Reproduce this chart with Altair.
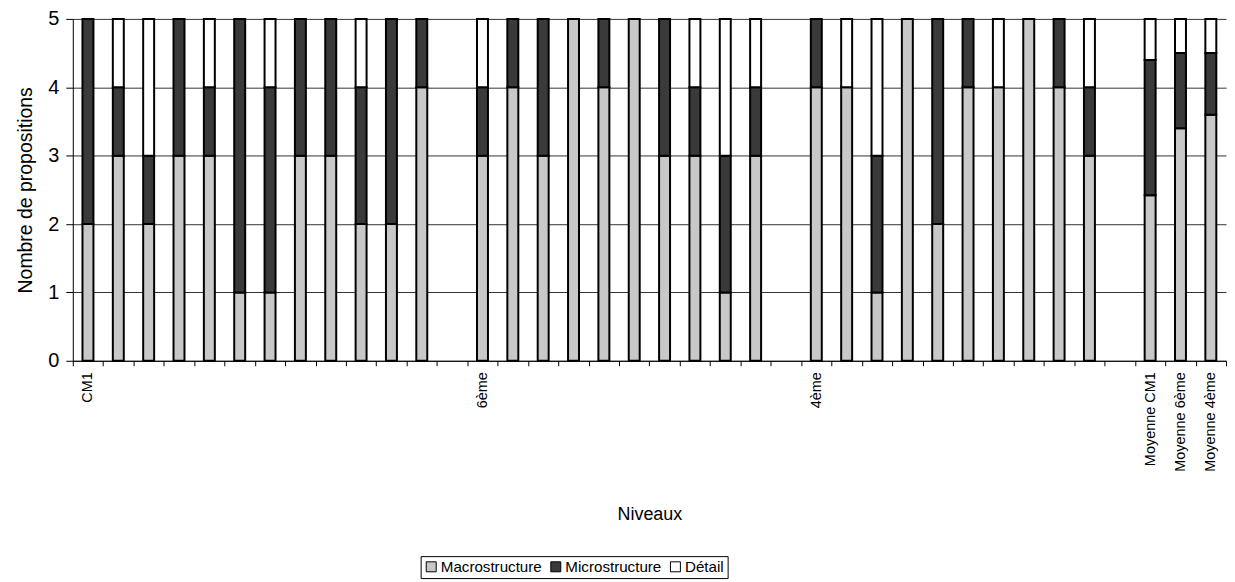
import altair as alt
import pandas as pd

# ---- data ----
categories = [f"n{i:02d}" for i in range(1, 39)]
tick_labels = (["CM1"] + [""] * 12 + ["6ème"] + [""] * 10 + ["4ème"] + [""] * 10
               + ["Moyenne CM1", "Moyenne 6ème", "Moyenne 4ème"])
macro = [2, 3, 2, 3, 3, 1, 1, 3, 3, 2, 2, 4, 0,
         3, 4, 3, 5, 4, 5, 3, 3, 1, 3, 0,
         4, 4, 1, 5, 2, 4, 4, 5, 4, 3, 0,
         2.42, 3.4, 3.6]
micro = [3, 1, 1, 2, 1, 4, 3, 2, 2, 2, 3, 1, 0,
         1, 1, 2, 0, 1, 0, 2, 1, 2, 1, 0,
         1, 0, 2, 0, 3, 1, 0, 0, 1, 1, 0,
         1.98, 1.1, 0.9]
detail = [0, 1, 2, 0, 1, 0, 1, 0, 0, 1, 0, 0, 0,
          1, 0, 0, 0, 0, 0, 0, 1, 2, 1, 0,
          0, 1, 2, 0, 0, 0, 1, 0, 0, 1, 0,
          0.6, 0.5, 0.5]
series_names = ["Macrostructure", "Microstructure", "Détail"]
series_colors = ["#c8c8c8", "#3a3a3a", "#ffffff"]

rows = []
for i, c in enumerate(categories):
    for k, (name, vals) in enumerate(zip(series_names, [macro, micro, detail])):
        if vals[i] > 0:
            rows.append({"cat": c, "serie": name, "val": vals[i], "ord": k})
df = pd.DataFrame(rows)

label_expr = ""
for c, t in zip(categories, tick_labels):
    if t:
        label_expr += f"datum.value == '{c}' ? '{t}' : "
label_expr += "''"

FONT = "Liberation Sans"

chart = alt.Chart(df).mark_bar(size=11, stroke="black", strokeWidth=2).encode(
    x=alt.X("cat:N", sort=categories,
            scale=alt.Scale(domain=categories, paddingInner=0, paddingOuter=0),
            axis=alt.Axis(title="Niveaux", labelExpr=label_expr, labelAngle=-90,
                          labelAlign="right", labelBaseline="middle",
                          labelFontSize=14.5, labelPadding=6, tickBand="extent",
                          tickSize=5, tickColor="black", domainColor="black",
                          grid=False, titleFontSize=18, titleFontWeight="normal",
                          titleY=154, titleBaseline="middle", labelOverlap=False)),
    y=alt.Y("val:Q", stack="zero",
            scale=alt.Scale(domain=[0, 5], nice=False),
            axis=alt.Axis(title="Nombre de propositions", values=[0, 1, 2, 3, 4, 5],
                          labelFontSize=20, tickSize=7, tickColor="black",
                          domainColor="black", gridColor="#333333", gridWidth=1,
                          titleFontSize=19.5, titleFontWeight="normal",
                          titlePadding=12, labelPadding=7)),
    color=alt.Color("serie:N", sort=series_names,
                    scale=alt.Scale(domain=series_names, range=series_colors),
                    legend=alt.Legend(title=None, orient="none", direction="horizontal",
                                      legendX=349, legendY=539,
                                      symbolType="square", symbolSize=100,
                                      symbolStrokeColor="black", symbolStrokeWidth=1,
                                      labelFontSize=15.2, strokeColor="black",
                                      padding=3, columnPadding=6, labelOffset=2)),
    order=alt.Order("ord:Q"),
).properties(
    width=1157, height=343,
    padding={"left": 7, "top": 0, "right": 0, "bottom": 0},
).configure(font=FONT).configure_view(stroke=None).configure_axis(
    labelColor="black", titleColor="black", labelFont=FONT, titleFont=FONT
).configure_legend(labelFont=FONT, labelColor="black")

chart.save("out.html", embed_options={"renderer": "svg", "actions": False})
